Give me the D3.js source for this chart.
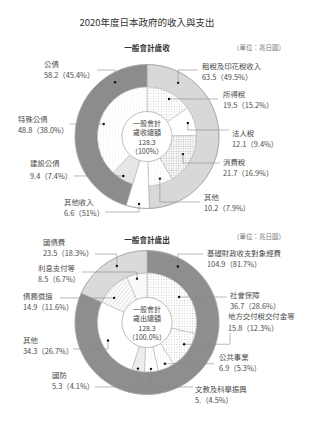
<!DOCTYPE html>
<html>
<head>
<meta charset="utf-8">
<script src="https://cdn.jsdelivr.net/npm/d3@7"></script>
<style>
  html, body { margin: 0; padding: 0; background: #fff; }
  svg { display: block; font-family: "Noto Sans CJK TC", "Noto Sans CJK SC", sans-serif; }
</style>
</head>
<body>
<div id="chart"></div>
<script>
// revenue (一般會計歲收)
const revOuterNames = ['租稅及印花稅收入', '其他收入', '公債'];
const revOuterValues = [63.5, 6.6, 58.2];
const revInnerNames = ['所得稅', '法人稅', '消費稅', '其他', '其他收入', '建設公債', '特殊公債'];
const revInnerValues = [19.5, 12.1, 21.7, 10.2, 6.6, 9.4, 48.8];
const revLabelNames = ['公債', '租稅及印花稅收入', '所得稅', '法人稅', '消費稅', '其他', '特殊公債', '建設公債', '其他收入'];
const revLabelValues = ['58.2（45.4%）', '63.5（49.5%）', '19.5（15.2%）', '12.1（9.4%）', '21.7（16.9%）', '10.2（7.9%）', '48.8（38.0%）', '9.4（7.4%）', '6.6（51%）'];
const revCenterText = ['一般會計', '歲收總額', '128.3', '（100%）'];

// expenditure (一般會計歲出)
const expOuterNames = ['基礎財政收支對象經費', '國債費'];
const expOuterValues = [104.9, 23.5];
const expInnerNames = ['社會保障', '地方交付稅交付金等', '公共事業', '文教及科學振興', '國防', '其他', '債務償還', '利息支付等'];
const expInnerValues = [36.7, 15.8, 6.9, 5.8, 5.3, 34.3, 14.9, 8.5];
const expLabelNames = ['國債費', '基礎財政收支對象經費', '利息支付等', '債務償還', '社會保障', '地方交付稅交付金等', '公共事業', '文教及科學振興', '國防', '其他'];
const expLabelValues = ['23.5（18.3%）', '104.9（81.7%）', '8.5（6.7%）', '14.9（11.6%）', '36.7（28.6%）', '15.8（12.3%）', '6.9（5.3%）', '5.（4.5%）', '5.3（4.1%）', '34.3（26.7%）'];
const expCenterText = ['一般會計', '歲出總額', '128.3', '（100.0%）'];

// ---- styling / layout ----
const W = 320, H = 426;
const R_IN = 25, R_MID = 49.5, R_OUT = 72;

const revOuterFill = ['#d8d8d8', '#ffffff', '#8c8c8c'];
const revInnerFill = ['url(#dots)', '#ffffff', 'url(#grid)', 'url(#faint)', '#ffffff', '#e6e6e6', 'url(#faint)'];
const expOuterFill = ['#8e8e8e', '#dadada'];
const expInnerFill = ['url(#dots)', 'url(#dots)', 'url(#faint)', 'url(#faint)', 'url(#hlines)', '#ffffff', 'url(#hatch)', '#fafafa'];

// label layout: ring, segment index, position in segment, radius, leader, text pos
const revLayout = [
  { ring: 'o', i: 2, f: 0.814, r: 63, mode: 'vh', lx: 97, ly: 70, tx: 44, ty: 66.5 },
  { ring: 'o', i: 0, f: 0.169, r: 62, mode: 'vh', lx: 198, ly: 70, tx: 202, ty: 68.5 },
  { ring: 'i', i: 0, f: 0.556, r: 43.5, mode: 'h', lx: 218, tx: 223, ty: 96.5 },
  { ring: 'i', i: 1, f: 0.5, r: 43, mode: 'vh', lx: 229, ly: 130, tx: 232, ty: 135.5 },
  { ring: 'i', i: 2, f: 0.45, r: 40, mode: 'vh', lx: 220, ly: 163, tx: 223, ty: 164.5 },
  { ring: 'i', i: 3, f: 0.47, r: 44, mode: 'vh', lx: 200, ly: 202, tx: 204, ty: 199.5 },
  { ring: 'i', i: 6, f: 0.46, r: 45, mode: 'h', lx: 70, tx: 18, ty: 121.5 },
  { ring: 'i', i: 5, f: 0.54, r: 46, mode: 'h', lx: 74, tx: 30, ty: 165.5, gap: 13 },
  { ring: 'i', i: 4, f: 0.46, r: 68, mode: 'vh', lx: 105, ly: 212, tx: 64, ty: 204.5 },
];
const expLayout = [
  { ring: 'o', i: 1, f: 0.574, r: 64, mode: 'vh', lx: 95, ly: 254, tx: 43, ty: 244.5 },
  { ring: 'o', i: 0, f: 0.098, r: 64, mode: 'vh', lx: 203, ly: 254, tx: 207, ty: 255.5 },
  { ring: 'i', i: 7, f: 0.46, r: 45, mode: 'vh', lx: 82, ly: 272, tx: 38, ty: 270.5 },
  { ring: 'i', i: 6, f: 0.30, r: 41, mode: 'h', lx: 60, tx: 23, ty: 298.5 },
  { ring: 'i', i: 0, f: 0.5, r: 41, mode: 'h', lx: 227, tx: 230, ty: 297.5 },
  { ring: 'i', i: 1, f: 0.39, r: 43, mode: 'hv', lx: 230, ly: 333, tx: 228, ty: 319, gap: 12 },
  { ring: 'i', i: 2, f: 0.47, r: 45, mode: 'h', lx: 214, tx: 219, ty: 359.5 },
  { ring: 'i', i: 3, f: 0.51, r: 46.5, mode: 'vh', lx: 193, ly: 387, tx: 195, ty: 391.5 },
  { ring: 'i', i: 4, f: 0.54, r: 47, mode: 'vh', lx: 95, ly: 387, tx: 52, ty: 377.5 },
  { ring: 'i', i: 5, f: 0.49, r: 43, mode: 'vh', lx: 73, ly: 349, tx: 23, ty: 342.5 },
];

const svg = d3.select('#chart').append('svg')
  .attr('width', W).attr('height', H).attr('viewBox', `0 0 ${W} ${H}`);

// fill patterns
const defs = svg.append('defs');
function pattern(id, size, draw, transform) {
  const p = defs.append('pattern').attr('id', id)
    .attr('patternUnits', 'userSpaceOnUse').attr('width', size).attr('height', size);
  if (transform) p.attr('patternTransform', transform);
  p.append('rect').attr('width', size).attr('height', size).attr('fill', '#fff');
  draw(p);
}
pattern('dots', 2.6, (p) => p.append('circle').attr('cx', 1.3).attr('cy', 1.3).attr('r', 0.45).attr('fill', '#a8a8a8'));
pattern('faint', 3, (p) => p.append('circle').attr('cx', 1.5).attr('cy', 1.5).attr('r', 0.4).attr('fill', '#d4d4d4'));
pattern('grid', 2.4, (p) => {
  p.append('line').attr('x1', 0).attr('y1', 0.2).attr('x2', 2.4).attr('y2', 0.2).attr('stroke', '#b0b0b0').attr('stroke-width', 0.45);
  p.append('line').attr('x1', 0.2).attr('y1', 0).attr('x2', 0.2).attr('y2', 2.4).attr('stroke', '#b0b0b0').attr('stroke-width', 0.45);
});
pattern('hatch', 3, (p) => p.append('line').attr('x1', 0).attr('y1', 0).attr('x2', 0).attr('y2', 3)
  .attr('stroke', '#9a9a9a').attr('stroke-width', 0.6), 'rotate(40)');
pattern('hlines', 2, (p) => p.append('line').attr('x1', 0).attr('y1', 0.5).attr('x2', 2).attr('y2', 0.5)
  .attr('stroke', '#b0b0b0').attr('stroke-width', 0.5));

svg.append('text')
  .attr('x', 147).attr('y', 26)
  .attr('text-anchor', 'middle')
  .style('font-size', '9.5px').style('fill', '#333')
  .text('2020年度日本政府的收入與支出');

function drawDonut(cfg) {
  const g = svg.append('g').attr('transform', `translate(${cfg.cx},${cfg.cy})`);
  const pie = d3.pie().sort(null).value((d) => d.value);
  const outer = pie(cfg.outerNames.map((n, i) => ({ name: n, value: cfg.outerValues[i], fill: cfg.outerFill[i] })));
  const inner = pie(cfg.innerNames.map((n, i) => ({ name: n, value: cfg.innerValues[i], fill: cfg.innerFill[i] })));
  const outerArc = d3.arc().innerRadius(R_MID).outerRadius(R_OUT);
  // a segment named in both rings runs from the centre circle to the edge
  const spans = (d) => cfg.outerNames.includes(d.data.name);
  const innerArc = d3.arc().innerRadius(R_IN).outerRadius((d) => (spans(d) ? R_OUT : R_MID));

  g.selectAll('path.outer').data(outer).enter().append('path')
    .attr('class', 'outer')
    .attr('d', outerArc)
    .attr('fill', (d) => d.data.fill)
    .attr('stroke', '#a8a8a8').attr('stroke-width', 0.6);

  g.selectAll('path.inner').data(inner).enter().append('path')
    .attr('class', 'inner')
    .attr('d', innerArc)
    .attr('fill', (d) => d.data.fill)
    .attr('stroke', '#b4b4b4').attr('stroke-width', 0.6);

  g.append('circle').attr('r', R_IN).attr('fill', '#fff').attr('stroke', '#a8a8a8').attr('stroke-width', 0.6);
  g.append('circle').attr('r', R_OUT).attr('fill', 'none').attr('stroke', '#a0a0a0').attr('stroke-width', 0.6);

  const centerY = [-11, -2, 8, 17.5];
  g.selectAll('text.center').data(cfg.centerText).enter().append('text')
    .attr('class', 'center')
    .attr('x', 0).attr('y', (d, i) => centerY[i])
    .attr('text-anchor', 'middle')
    .style('font-size', '7px').style('fill', '#444')
    .text((d) => d);

  // leaders, dots and labels
  const lg = svg.append('g');
  cfg.layout.forEach((L, k) => {
    const seg = (L.ring === 'o' ? outer : inner)[L.i];
    const a = seg.startAngle + L.f * (seg.endAngle - seg.startAngle);
    const [px, py] = d3.pointRadial(a, L.r);
    const dx = cfg.cx + px, dy = cfg.cy + py;
    let pts;
    if (L.mode === 'h') pts = [[dx, dy], [L.lx, dy]];
    else if (L.mode === 'vh') pts = [[dx, dy], [dx, L.ly], [L.lx, L.ly]];
    else pts = [[dx, dy], [L.lx, dy], [L.lx, L.ly]];
    lg.append('path')
      .attr('d', d3.line()(pts))
      .attr('fill', 'none').attr('stroke', '#8a8a8a').attr('stroke-width', 0.6);
    lg.append('circle').attr('cx', dx).attr('cy', dy).attr('r', 1.2).attr('fill', '#111');
    const t = lg.append('text').attr('x', L.tx).attr('y', L.ty)
      .style('font-size', '7.4px').style('fill', '#4a4a4a');
    t.append('tspan').attr('x', L.tx).text(cfg.labelNames[k]);
    t.append('tspan').attr('x', L.tx).attr('dy', L.gap || 11).text(cfg.labelValues[k]);
  });

  svg.append('text')
    .attr('x', cfg.cx).attr('y', cfg.titleY)
    .attr('text-anchor', 'middle')
    .style('font-size', '7.6px').style('font-weight', 'bold').style('fill', '#333')
    .text(cfg.title);
  svg.append('text')
    .attr('x', 285).attr('y', cfg.unitY)
    .attr('text-anchor', 'end')
    .style('font-size', '6.5px').style('fill', '#777')
    .text('（單位：兆日圓）');
}

drawDonut({
  cx: 147, cy: 136.5, title: '一般會計歲收', titleY: 50.5, unitY: 50,
  outerNames: revOuterNames, outerValues: revOuterValues, outerFill: revOuterFill,
  innerNames: revInnerNames, innerValues: revInnerValues, innerFill: revInnerFill,
  labelNames: revLabelNames, labelValues: revLabelValues, layout: revLayout,
  centerText: revCenterText,
});

drawDonut({
  cx: 147, cy: 322.5, title: '一般會計歲出', titleY: 242.5, unitY: 238.5,
  outerNames: expOuterNames, outerValues: expOuterValues, outerFill: expOuterFill,
  innerNames: expInnerNames, innerValues: expInnerValues, innerFill: expInnerFill,
  labelNames: expLabelNames, labelValues: expLabelValues, layout: expLayout,
  centerText: expCenterText,
});
</script>
</body>
</html>
